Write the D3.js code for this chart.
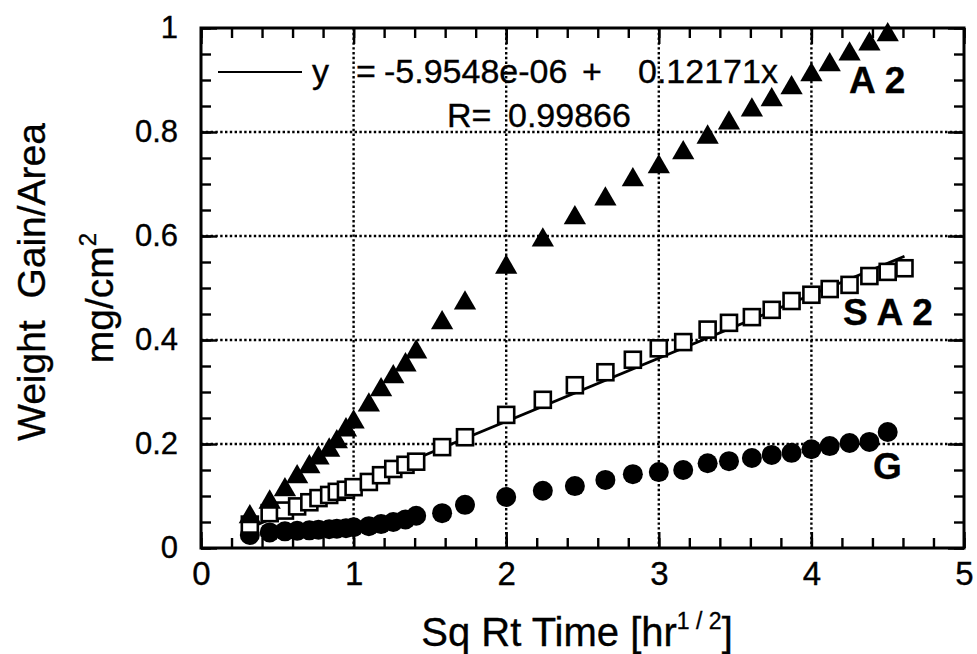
<!DOCTYPE html>
<html>
<head>
<meta charset="utf-8">
<script src="https://d3js.org/d3.v7.min.js"></script>
<style>
  body { margin: 0; background: #fff; }
  text { font-family: "Liberation Sans", Arial, sans-serif; fill: #000; stroke: #000; stroke-width: 0.35px; }
</style>
</head>
<body>
<script>
// sqrt(time) values shared by the three series
var sqrtTime = [0.32, 0.45, 0.55, 0.63, 0.71, 0.77, 0.84, 0.89, 0.95, 1.0,
                1.1, 1.18, 1.26, 1.34, 1.41, 1.58, 1.73, 2.0, 2.24, 2.45,
                2.65, 2.83, 3.0, 3.16, 3.32, 3.46, 3.61, 3.74, 3.87, 4.0,
                4.12, 4.25, 4.38, 4.5];
var sqrtTimeSA2 = sqrtTime.concat([4.61]);

var gainA2 = [0.060, 0.088, 0.112, 0.137, 0.156, 0.173, 0.188, 0.204, 0.227, 0.242,
              0.275, 0.304, 0.329, 0.352, 0.377, 0.433, 0.471, 0.540, 0.592, 0.635,
              0.671, 0.708, 0.733, 0.760, 0.790, 0.817, 0.842, 0.862, 0.885, 0.910,
              0.929, 0.950, 0.969, 0.987];
var gainSA2 = [0.045, 0.067, 0.072, 0.080, 0.088, 0.096, 0.102, 0.108, 0.112, 0.117,
               0.127, 0.140, 0.152, 0.160, 0.166, 0.194, 0.213, 0.256, 0.285, 0.313,
               0.338, 0.362, 0.384, 0.396, 0.420, 0.433, 0.444, 0.458, 0.475, 0.487,
               0.498, 0.506, 0.523, 0.531, 0.538];
var gainG = [0.025, 0.030, 0.032, 0.033, 0.034, 0.035, 0.036, 0.037, 0.038, 0.040,
             0.042, 0.046, 0.050, 0.055, 0.062, 0.067, 0.083, 0.098, 0.110, 0.119,
             0.131, 0.142, 0.146, 0.150, 0.163, 0.167, 0.173, 0.179, 0.183, 0.190,
             0.196, 0.202, 0.204, 0.223];

// linear fit of SA2
var fitA = -5.9548e-06, fitB = 0.12171;
var fitRange = [0.32, 4.61];

var xTicks = [0, 1, 2, 3, 4, 5];
var yTicks = [0, 0.2, 0.4, 0.6, 0.8, 1];

var W = 977, H = 654;
var pL = 201, pR = 964, pT = 28, pB = 548;

var svg = d3.select("body").append("svg")
    .attr("width", W).attr("height", H);

var x = d3.scaleLinear().domain([0, 5]).range([pL, pR]);
var y = d3.scaleLinear().domain([0, 1]).range([pB, pT]);

// dotted grid
var grid = svg.append("g");
grid.selectAll("line.gx").data(xTicks.slice(1, -1)).enter().append("line")
    .attr("x1", d => x(d)).attr("x2", d => x(d))
    .attr("y1", pT).attr("y2", pB)
    .attr("stroke", "#000").attr("stroke-width", 2.4).attr("stroke-dasharray", "2.4,2.4");
grid.selectAll("line.gy").data(yTicks.slice(1, -1)).enter().append("line")
    .attr("x1", pL).attr("x2", pR)
    .attr("y1", d => y(d)).attr("y2", d => y(d))
    .attr("stroke", "#000").attr("stroke-width", 2.4).attr("stroke-dasharray", "2.4,2.4");

// inward ticks on all four sides
var xMinor = d3.range(0, 5.0001, 0.2), yMinor = d3.range(0, 1.0001, 0.05);
function ticks(axisFn, scale, vals, len, tr) {
  svg.append("g").attr("transform", tr)
    .call(axisFn(scale).tickValues(vals).tickSize(len).tickFormat(""))
    .call(g => g.select(".domain").remove())
    .call(g => g.selectAll("line").attr("stroke", "#000").attr("stroke-width", 2.4));
}
ticks(d3.axisBottom, x, xMinor, -10, "translate(0," + pB + ")");
ticks(d3.axisTop, x, xMinor, -10, "translate(0," + pT + ")");
ticks(d3.axisLeft, y, yMinor, -10, "translate(" + pL + ",0)");
ticks(d3.axisRight, y, yMinor, -10, "translate(" + pR + ",0)");
ticks(d3.axisBottom, x, xTicks, -16, "translate(0," + pB + ")");
ticks(d3.axisTop, x, xTicks, -16, "translate(0," + pT + ")");
ticks(d3.axisLeft, y, yTicks, -16, "translate(" + pL + ",0)");
ticks(d3.axisRight, y, yTicks, -16, "translate(" + pR + ",0)");

// frame
svg.append("rect").attr("x", pL).attr("y", pT)
    .attr("width", pR - pL).attr("height", pB - pT)
    .attr("fill", "none").attr("stroke", "#000").attr("stroke-width", 3);

// tick labels
svg.append("g").attr("transform", "translate(0," + pB + ")")
  .call(d3.axisBottom(x).tickValues(xTicks).tickSize(0).tickPadding(14).tickFormat(d3.format("d")))
  .call(g => g.select(".domain").remove())
  .call(g => g.selectAll("text").style("font-size", "33px")
      .style("font-family", "'Liberation Sans Narrow', 'Liberation Sans', sans-serif"));
svg.append("g").attr("transform", "translate(" + pL + ",0)")
  .call(d3.axisLeft(y).tickValues(yTicks).tickSize(0).tickPadding(23).tickFormat(d => d === 0 || d === 1 ? d : d.toFixed(1)))
  .call(g => g.select(".domain").remove())
  .call(g => g.selectAll("text").style("font-size", "31px"));

// axis titles
svg.append("text")
    .attr("transform", "translate(45,282)rotate(-90)")
    .style("text-anchor", "middle").style("font-size", "39px")
    .attr("xml:space", "preserve")
    .text("Weight  Gain/Area");
var t2 = svg.append("text")
    .attr("transform", "translate(113,298)rotate(-90)")
    .style("text-anchor", "middle").style("font-size", "39px");
t2.append("tspan").text("mg/cm");
t2.append("tspan").attr("dy", -17).style("font-size", "24px").text("2");

var xt = svg.append("text").attr("x", 577).attr("y", 646)
    .style("text-anchor", "middle").style("font-size", "40px")
    .style("font-family", "'Liberation Sans Narrow', 'Liberation Sans', sans-serif");
xt.append("tspan").text("Sq Rt Time [hr");
xt.append("tspan").attr("dy", -17).style("font-size", "23px")
    .attr("xml:space", "preserve").text("1 / 2");
xt.append("tspan").attr("dy", 17).text("]");

// fit line
var line = d3.line().x(d => x(d)).y(d => y(fitA + fitB * d));
svg.append("path").datum(fitRange).attr("d", line)
    .attr("fill", "none").attr("stroke", "#000").attr("stroke-width", 2.8);

// markers
svg.append("g").selectAll("circle").data(d3.zip(sqrtTime, gainG)).enter().append("circle")
    .attr("cx", d => x(d[0])).attr("cy", d => y(d[1])).attr("r", 10).attr("fill", "#000");
svg.append("g").selectAll("rect").data(d3.zip(sqrtTimeSA2, gainSA2)).enter().append("rect")
    .attr("x", d => x(d[0]) - 8).attr("y", d => y(d[1]) - 8)
    .attr("width", 16).attr("height", 16)
    .attr("fill", "#fff").attr("stroke", "#000").attr("stroke-width", 2.6);
var tri = d3.symbol().type(d3.symbolTriangle).size(215);
svg.append("g").selectAll("path").data(d3.zip(sqrtTime, gainA2)).enter().append("path")
    .attr("d", tri)
    .attr("transform", d => "translate(" + x(d[0]) + "," + y(d[1]) + ")")
    .attr("fill", "#000");

// legend / fit text
svg.append("line").attr("x1", 218).attr("x2", 302).attr("y1", 72).attr("y2", 72)
    .attr("stroke", "#000").attr("stroke-width", 2.2);
function txt(s, px, py, size) {
  svg.append("text").attr("x", px).attr("y", py).style("font-size", size + "px").text(s);
}
txt("y", 312, 83, 34);
txt("=", 356, 83, 34);
txt("-5.9548e-06", 384, 83, 34);
txt("+", 582, 83, 34);
txt("0.12171x", 638, 83, 34);
txt("R=", 447, 127, 34);
txt("0.99866", 508, 127, 34);

// series labels
function label(s, px, py) {
  svg.append("text").attr("x", px).attr("y", py)
    .style("font-size", "37px").style("font-weight", "bold")
    .attr("xml:space", "preserve").text(s);
}
label("A 2", 849, 93);
label("S A 2", 843, 325);
label("G", 873, 479);
</script>
</body>
</html>
